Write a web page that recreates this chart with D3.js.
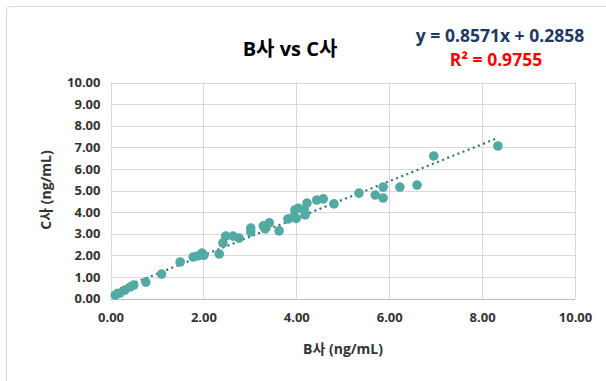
<!DOCTYPE html>
<html><head><meta charset="utf-8">
<script src="https://cdn.jsdelivr.net/npm/d3@7"></script>
<style>
body{margin:0;background:#fff;}
svg text{font-family:"Open Sans","Noto Sans CJK KR",sans-serif;}
</style></head>
<body><svg id="c" width="606" height="381"></svg>
<script>
const bValues = [0.10,0.20,0.31,0.42,0.50,0.76,1.10,1.50,1.78,1.88,1.97,2.01,2.34,2.42,2.48,2.64,2.77,3.02,3.02,3.29,3.33,3.42,3.63,3.82,3.93,3.97,4.00,4.04,4.19,4.17,4.23,4.44,4.58,4.81,5.35,5.70,5.87,5.87,6.23,6.60,6.96,8.34];
const cValues = [0.16,0.25,0.39,0.53,0.62,0.76,1.13,1.69,1.92,1.97,2.10,2.00,2.06,2.57,2.89,2.89,2.80,3.26,3.08,3.36,3.22,3.50,3.13,3.68,3.77,4.10,3.71,4.18,3.87,4.10,4.42,4.56,4.61,4.38,4.88,4.79,5.16,4.65,5.16,5.25,6.60,7.06];
const xTicks = [0,2,4,6,8,10];
const yTicks = [0,1,2,3,4,5,6,7,8,9,10];
const slope = 0.8571, intercept = 0.2858;
const title = "B사 vs C사";
const eqText = "y = 0.8571x + 0.2858";
const r2Text = "R² = 0.9755";
const xTitle = "B사 (ng/mL)";
const yTitle = "C사 (ng/mL)";

const svg = d3.select("#c");
svg.append("rect").attr("x",6.5).attr("y",6.5).attr("width",640).attr("height",420).attr("rx",4)
  .attr("fill","none").attr("stroke","#d9d9d9");

const x = d3.scaleLinear().domain([0,10]).range([110.5,575]);
const y = d3.scaleLinear().domain([0,10]).range([298.5,82.5]);

const g = svg.append("g");
g.selectAll(".gx").data(xTicks).join("line").attr("x1",d=>Math.round(x(d))+0.5).attr("x2",d=>Math.round(x(d))+0.5)
  .attr("y1",y(10)).attr("y2",y(0)).attr("stroke","#d9d9d9");
g.selectAll(".gy").data(yTicks).join("line").attr("y1",d=>Math.round(y(d))+0.5).attr("y2",d=>Math.round(y(d))+0.5)
  .attr("x1",x(0)).attr("x2",x(10)).attr("stroke",d=>d===0?"#bfbfbf":"#d9d9d9");

const fmt = d3.format(".2f");
const xAxis = d3.axisBottom(x).tickValues(xTicks).tickFormat(fmt).tickSize(0).tickPadding(14);
const xa = svg.append("g").attr("transform",`translate(0,${y(0)})`).call(xAxis);
const yAxis = d3.axisLeft(y).tickValues(yTicks).tickFormat(fmt).tickSize(0).tickPadding(10);
const ya = svg.append("g").attr("transform",`translate(${x(0)},0)`).call(yAxis);
[xa,ya].forEach(a=>{a.select(".domain").remove();
  a.selectAll("text").attr("font-size",13).attr("font-weight","bold").attr("fill","#333")
   .style("font-family","'Open Sans','Noto Sans CJK KR',sans-serif");});

// trendline
const xs = d3.extent(bValues);
svg.append("line").attr("x1",x(xs[0])).attr("y1",y(slope*xs[0]+intercept))
  .attr("x2",x(xs[1])).attr("y2",y(slope*xs[1]+intercept))
  .attr("stroke","#2f7671").attr("stroke-width",2.2).attr("stroke-dasharray","2,3.5");

svg.append("g").selectAll("circle").data(bValues.map((b,i)=>[b,cValues[i]])).join("circle")
  .attr("cx",d=>x(d[0])).attr("cy",d=>y(d[1])).attr("r",4.8).attr("fill","#52aaa2");

svg.append("text").attr("x",290).attr("y",56).attr("text-anchor","middle").attr("font-size",20)
  .attr("font-weight","bold").attr("fill","#000").text(title);
svg.append("text").attr("x",500).attr("y",42).attr("text-anchor","middle").attr("font-size",17.5)
  .attr("font-weight","bold").attr("fill","#1f3864").text(eqText);
svg.append("text").attr("x",496).attr("y",66).attr("text-anchor","middle").attr("font-size",17.5)
  .attr("font-weight","bold").attr("fill","#ff0000").text(r2Text);
svg.append("text").attr("x",343).attr("y",354).attr("text-anchor","middle").attr("font-size",14)
  .attr("font-weight","bold").attr("fill","#333").text(xTitle);
svg.append("text").attr("transform","translate(51,190) rotate(-90)").attr("text-anchor","middle").attr("font-size",14)
  .attr("font-weight","bold").attr("fill","#333").text(yTitle);
</script></body></html>
